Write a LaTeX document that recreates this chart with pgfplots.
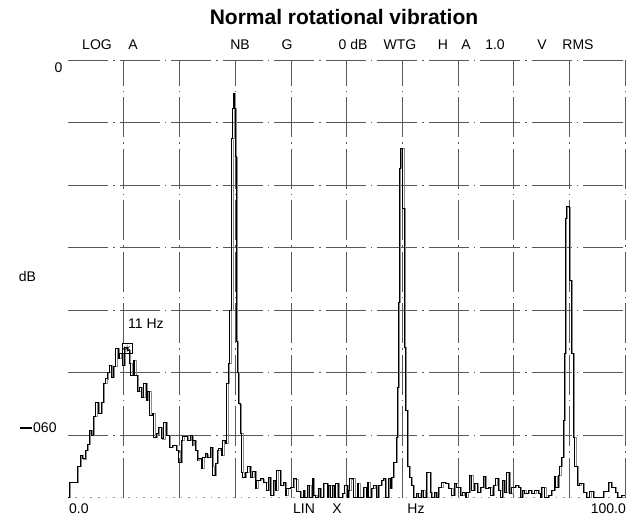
\documentclass[border=0pt]{standalone}
\usepackage{pgfplots}
\pgfplotsset{compat=1.18}
\usepackage{pgfplotstable}
\usepackage{fontspec}
\setmainfont{Liberation Sans}
\pgfplotstableread{
x y
0 -70
0.3 -67.5
1.7 -65
2.2 -63.2
2.6 -63.8
3.1 -62.4
3.5 -61.5
3.9 -59.2
4.2 -60
4.5 -57
5.0 -54.7
5.5 -56.5
6.0 -54.7
6.3 -51.7
6.8 -51
7.0 -50
7.5 -48.8
7.8 -50.7
8.2 -49
8.6 -46.1
9.0 -47.7
9.3 -46.9
9.7 -48.8
10.1 -45.9
10.7 -46.4
11.0 -48.5
11.3 -50.4
11.7 -48
12.0 -50.4
12.5 -53
12.9 -52.3
13.2 -53.9
13.6 -51.7
14.0 -54.4
14.3 -53
14.7 -56.8
15.1 -56.5
15.4 -60.3
15.9 -59.8
16.2 -58.7
16.8 -60.6
17.2 -57.9
17.7 -60
18.2 -61.9
18.8 -61.6
19.5 -62.4
19.9 -64.3
20.3 -60.8
20.6 -60.2
21.4 -60.8
21.9 -60
22.3 -61.6
22.4 -60.8
22.8 -62.4
23.2 -64
23.3 -63.8
23.9 -65.3
24.2 -63.5
24.6 -63
25.0 -63.5
25.5 -61.9
25.9 -65
26.0 -66.4
26.4 -64.5
26.8 -62.4
27.1 -62.1
27.6 -63.2
27.8 -60.8
28.2 -61.3
28.5 -51.7
28.8 -48.5
29.05 -40
29.4 -12.5
29.6 -7.7
29.75 -5.3
29.9 -7.7
30.1 -15.5
30.25 -45
30.4 -50
30.6 -55
30.9 -59.7
31.2 -65.9
31.4 -66.7
31.8 -66
32.3 -65
32.7 -66.7
33.2 -65.8
33.6 -68.5
33.9 -67.2
34.5 -67
35.0 -67.5
35.7 -68.8
35.9 -66.8
36.3 -69.6
36.8 -67.2
37.2 -68.8
37.5 -65.6
38.1 -68
38.6 -67.5
39.0 -69.6
39.3 -68.5
39.9 -68.3
40.4 -67
41.1 -69
41.7 -70
42.2 -68.8
42.5 -70
42.9 -68
43.4 -70
43.8 -66.9
44.1 -69.6
44.5 -70
44.9 -68.5
45.3 -70
45.8 -67.7
46.5 -70
46.7 -68
47.2 -70
47.5 -68
47.8 -70
48.1 -67.7
48.5 -70
49.2 -69.3
49.7 -68
50.1 -70
50.3 -68.8
50.6 -67
51.0 -66.9
51.3 -70
51.9 -67.7
52.2 -70
53.0 -68.3
53.5 -70
53.7 -67.5
54.0 -70
54.4 -68.5
54.9 -68
55.3 -70
55.7 -68
56.2 -67.2
56.6 -66.9
57.0 -70
57.5 -66.9
57.9 -68.5
58.1 -66.7
58.4 -64.3
58.9 -60.3
59.1 -52.3
59.3 -38.7
59.45 -17.4
59.6 -14.2
60.1 -23.7
60.4 -45.9
60.6 -56
60.9 -65
61.3 -66.7
61.7 -68
62.0 -70
62.6 -69.3
63.0 -70
63.5 -68.8
63.9 -70
64.4 -65.9
65.0 -69.1
65.3 -70
65.8 -69.1
66.1 -70
66.5 -68.3
67.1 -67.5
67.7 -67.7
68.3 -68.5
68.9 -69.6
69.4 -67.7
69.8 -68.3
70.4 -69.6
70.9 -69.1
71.3 -70
71.6 -69.1
72.0 -66.4
72.5 -68.8
72.9 -67.7
73.5 -69.1
74.0 -68.3
74.5 -66.6
74.9 -68.5
75.5 -68.3
75.9 -69.6
76.4 -68
76.8 -66.9
77.3 -68.8
77.7 -70
78.0 -67.2
78.3 -69.1
78.8 -65.9
79.2 -69.3
79.7 -68.3
80.3 -68
80.8 -68.3
81.2 -70
81.5 -68.8
82.0 -69.3
82.6 -68.8
83.2 -69.3
83.8 -68.8
84.4 -69.3
84.8 -70
85.0 -68.3
85.6 -70
86.2 -69.6
86.8 -68.8
87.3 -66.6
87.6 -68.3
88.0 -66.4
88.3 -65
88.6 -63.5
88.9 -57.6
89.1 -46.9
89.25 -25.4
89.5 -23.5
90.0 -35.2
90.4 -46.9
90.7 -60.3
91.0 -65
91.4 -68
91.9 -67.7
92.5 -69.1
93.1 -70
93.7 -69
94.3 -70
96.1 -69
97.0 -67.5
97.6 -68.3
98.2 -69.1
98.6 -70
99.4 -69.6
100 -69.6
}\spectrum

\begin{document}
\begin{tikzpicture}
\path[use as bounding box] (0pt,0pt) rectangle (627pt,522pt);
\begin{axis}[
  at={(68pt,24.3pt)}, anchor=south west,
  scale only axis, width=557pt, height=437.7pt,
  xmin=0, xmax=100, ymin=-70, ymax=0,
  axis line style={draw=none},
  xtick={10,20,...,100}, ytick={-60,-50,...,0},
  xticklabels={}, yticklabels={},
  major tick length=0pt,
  grid=major,
  grid style={black!65, line width=0.6pt, dash pattern=on 40pt off 5pt on 1.5pt off 5pt},
  extra y ticks={-70}, extra y tick labels={},
  extra y tick style={grid style={black!40, line width=0.6pt, dash pattern=on 1.5pt off 6pt}},
  clip=false,
]
\addplot[const plot, black!45, line width=0.7pt] table[x expr=\thisrow{x}+0.2, y=y] {\spectrum};
\addplot[const plot, black, line width=0.9pt] table[x=x, y=y] {\spectrum};
\addplot[only marks, mark=square, mark size=5pt, black, line width=0.6pt] coordinates {(10.6,-46.1)};
\addplot[only marks, mark=asterisk, mark size=3.5pt, black, line width=0.5pt] coordinates {(10.6,-46.1)};
\end{axis}
\node[font=\fontsize{21}{24}\selectfont\bfseries] at (344pt,505pt) {Normal rotational vibration};
\begin{scope}[every node/.style={font=\fontsize{14}{16}\selectfont, inner sep=0pt}]
\node at (97pt,477pt) {LOG};
\node at (133pt,477pt) {A};
\node at (240pt,477pt) {NB};
\node at (287pt,477pt) {G};
\node at (353pt,477pt) {0 dB};
\node at (400pt,477pt) {WTG};
\node at (443pt,477pt) {H};
\node at (466pt,477pt) {A};
\node at (495pt,477pt) {1.0};
\node at (542pt,477pt) {V};
\node at (578pt,477pt) {RMS};
\node at (58.5pt,454pt) {0};
\node at (27.5pt,245pt) {dB};
\node[anchor=west] at (20pt,94pt) {\rule[3.5pt]{12pt}{2.5pt}\kern1pt 060};
\node[anchor=west] at (128pt,198.5pt) {11 Hz};
\node[anchor=west] at (69pt,13pt) {0.0};
\node at (304pt,13pt) {LIN};
\node at (337pt,13pt) {X};
\node at (416pt,13pt) {Hz};
\node[anchor=east] at (626pt,13pt) {100.0};
\end{scope}
\end{tikzpicture}
\end{document}
